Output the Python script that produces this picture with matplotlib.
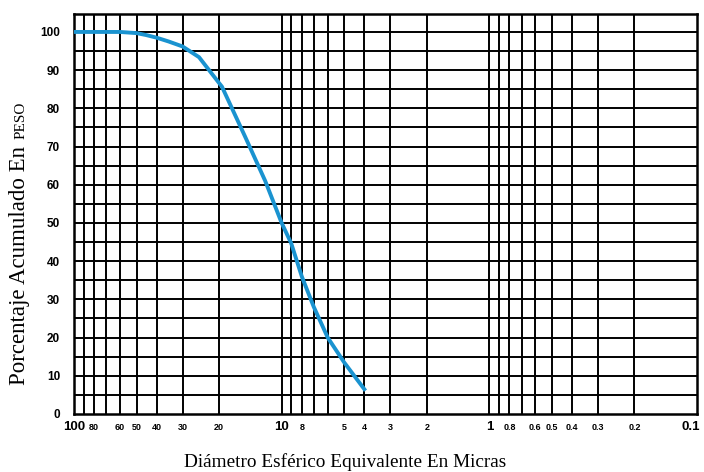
import matplotlib
matplotlib.use("Agg")
import matplotlib.pyplot as plt

# Data
sizes = [100, 60, 50, 45, 40, 35, 30, 25, 20, 19.4, 15, 12, 10, 9, 8, 7, 6, 5, 4]
pct = [100, 100, 99.7, 99.2, 98.5, 97.5, 96.2, 93.4, 86.6, 85.7, 72.6, 61, 50, 44.7, 36, 28, 20, 13.5, 6.5]

vgrid = [90, 80, 70, 60, 50, 40, 30, 20, 10, 9, 8, 7, 6, 5, 4, 3, 2, 1,
         0.9, 0.8, 0.7, 0.6, 0.5, 0.4, 0.3, 0.2]
big_xticks = [100, 10, 1, 0.1]
big_xlabels = ["100", "10", "1", "0.1"]
small_xticks = [80, 60, 50, 40, 30, 20, 8, 5, 4, 3, 2, 0.8, 0.6, 0.5, 0.4, 0.3, 0.2]
small_xlabels = ["80", "60", "50", "40", "30", "20", "8", "5", "4", "3", "2",
                 "0.8", "0.6", "0.5", "0.4", "0.3", "0.2"]
hgrid = list(range(5, 101, 5))
yticks = list(range(0, 101, 10))
ylabels = [str(v) for v in yticks]

xlabel = "Diámetro Esférico Equivalente En Micras"
ylabel_main = "Porcentaje Acumulado En "
ylabel_small = "PESO"

W, H = 704, 472
fig = plt.figure(figsize=(W / 100, H / 100), dpi=100)
ax = fig.add_axes([74 / W, (H - 414) / H, (697 - 74) / W, (414 - 14) / H])
ax.set_xscale("log")
ax.set_xlim(100, 0.1)
ax.set_ylim(0, 104.7)

for v in vgrid:
    ax.axvline(v, color="black", lw=1.4, zorder=1)
for v in hgrid:
    ax.axhline(v, color="black", lw=1.4, zorder=1)

ax.plot(sizes, pct, color="#1a93d0", lw=2.8, zorder=3)

for s in ax.spines.values():
    s.set_linewidth(1.8)
    s.set_color("black")

ax.tick_params(axis="both", which="both", length=0)
ax.set_xticks([])
ax.set_xticks([], minor=True)
ax.set_yticks(yticks)
ax.set_yticklabels(ylabels, fontfamily="Liberation Sans", fontweight="bold", fontsize=8.5)
ax.tick_params(axis="y", pad=10)

tr = ax.get_xaxis_transform()
ylab = -13 / 400
for v, lab in zip(big_xticks, big_xlabels):
    dx = 0.935 if lab == "0.1" else 1.0
    ax.text(v * (1 / dx) if lab == "0.1" else v, ylab, lab, transform=tr, ha="center", va="center",
            fontfamily="Liberation Sans", fontweight="bold", fontsize=9.5, clip_on=False)
for v, lab in zip(small_xticks, small_xlabels):
    ax.text(v, ylab, lab, transform=tr, ha="center", va="center",
            fontfamily="Liberation Sans", fontweight="bold", fontsize=6.5, clip_on=False)

fig.text(345 / W, (H - 467) / H, xlabel, ha="center", va="baseline",
         fontfamily="Liberation Serif", fontsize=13.9)

# y label with small caps part
t1 = fig.text(25 / W, (H - 385) / H, ylabel_main, rotation=90, rotation_mode="anchor",
              ha="left", va="baseline", fontfamily="Liberation Serif", fontsize=16.5)
fig.canvas.draw()
bb = t1.get_window_extent()
t2 = fig.text(25 / W, (bb.y1 + 1) / H, ylabel_small, rotation=90, rotation_mode="anchor",
              ha="left", va="baseline", fontfamily="Liberation Serif", fontsize=11)

fig.savefig("out.png", dpi=100)
